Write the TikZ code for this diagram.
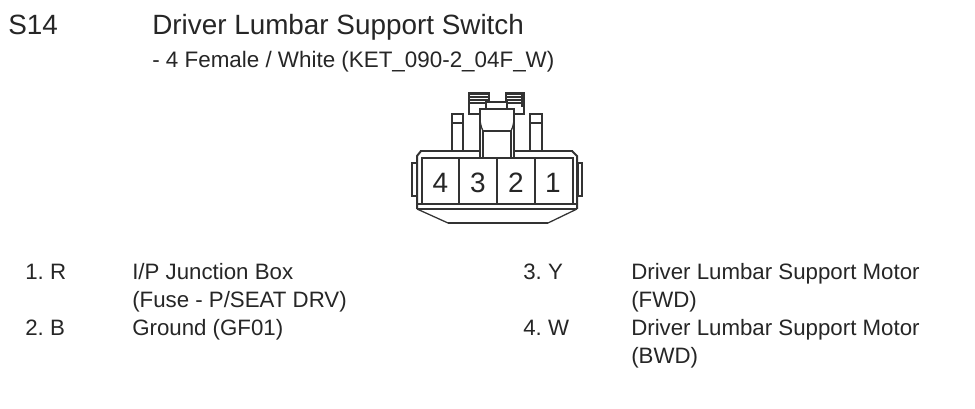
\documentclass[tikz,border=0pt]{standalone}
\usepackage{fontspec}
\setmainfont{Liberation Sans}
\frenchspacing
\tikzset{
  title/.style={anchor=base west,inner sep=0pt,font=\fontsize{20.9}{22}\selectfont,text=black!85},
  sub/.style={anchor=base west,inner sep=0pt,font=\fontsize{16.8}{18}\selectfont,text=black!85},
  txt/.style={anchor=base west,inner sep=0pt,font=\fontsize{16.7}{18}\selectfont,text=black!85},
  pin/.style={anchor=center,inner sep=0pt,font=\fontsize{21}{22}\selectfont,text=black!85},
  th/.style={line width=0.95pt,draw=black!80},
  tk/.style={line width=1.5pt,draw=black!80}
}
\begin{document}
\begin{tikzpicture}[x=0.75pt,y=-0.75pt]
\useasboundingbox (0,0) rectangle (975,409);
\fill[white] (0,0) rectangle (975,409);
\node[title] (code) at (8,34.5) {S14};
\node[title] (head) at (152,34.5) {Driver Lumbar Support Switch};
\node[sub] (subh) at (152,68) {- 4 Female / White (KET\_090-2\_04F\_W)};
% connector
\draw[th] (412,163) rectangle (417,196);
\draw[th] (578,163) rectangle (582,196);
\draw[th] (452,114) rectangle (463,151);
\draw[th] (452,123) -- (463,123);
\draw[th] (530,114) rectangle (542,151);
\draw[th] (530,123) -- (542,123);
\draw[th,fill=white] (469,93) rectangle (489,114);
\draw[th,fill=white] (506,93) rectangle (524,114);
\foreach \yy in {94,97,100,103}{
  \draw[tk,line width=1.1pt] (469,\yy) -- (489,\yy);
  \draw[tk,line width=1.1pt] (506,\yy) -- (524,\yy);
}
\draw[tk] (522,93) -- (522,107);
\draw[th,fill=white] (486,102) rectangle (507,112);
\draw[tk,fill=white] (480,158) -- (480,109) -- (514,109) -- (514,158);
\draw[th] (483,158) -- (483,131) -- (511,131) -- (511,158);
\draw[th] (480,120) .. controls (481,127) and (482,129) .. (483,131);
\draw[th] (514,120) .. controls (513,127) and (512,129) .. (511,131);
\draw[tk] (420,151) -- (480,151);
\draw[tk] (514,151) -- (573,151);
\draw[tk] (417,209) -- (417,156) -- (421,151);
\draw[tk] (577,209) -- (577,156) -- (572,151);
\draw[th] (422,204) -- (422,158) -- (480,158);
\draw[th] (514,158) -- (573,158) -- (573,204);
\draw[th] (480,158) -- (514,158);
\draw[tk] (417,204) -- (577,204);
\draw[tk] (417,209) -- (577,209);
\draw[th] (417,209) -- (448,223);
\draw[th] (577,209) -- (548,223);
\draw[tk] (448,223) -- (548,223);
\foreach \xx in {459,497,535}{\draw[th] (\xx,158) -- (\xx,204);}
\node[pin] (p4) at (440.5,182.5) {4};
\node[pin] (p3) at (478,182.5) {3};
\node[pin] (p2) at (516,182.5) {2};
\node[pin] (p1) at (553,182.5) {1};
% pin table
\node[txt] (a1) at (25,280) {1. R};
\node[txt] (a2) at (25,336) {2. B};
\node[txt] (b1) at (132,280) {I/P Junction Box};
\node[txt] (b2) at (132,308) {(Fuse - P/SEAT DRV)};
\node[txt] (b3) at (132,336) {Ground (GF01)};
\node[txt] (c1) at (523,280) {3. Y};
\node[txt] (c2) at (523,336) {4. W};
\node[txt] (d1) at (631,280) {Driver Lumbar Support Motor};
\node[txt] (d2) at (631,308) {(FWD)};
\node[txt] (d3) at (631,336) {Driver Lumbar Support Motor};
\node[txt] (d4) at (631,364) {(BWD)};
\end{tikzpicture}
\end{document}
